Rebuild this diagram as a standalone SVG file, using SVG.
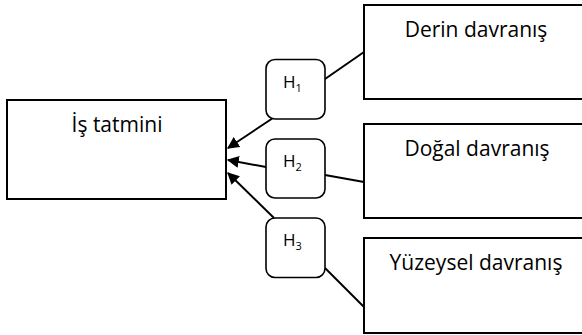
<svg xmlns="http://www.w3.org/2000/svg" width="582" height="335" viewBox="0 0 582 335">
  <defs>
    <style>
      .box { fill: #ffffff; stroke: #000000; stroke-width: 2; }
      .hyp { fill: #ffffff; stroke: #000000; stroke-width: 1.6; }
      .lbl { font-family: "Open Sans", "Noto Sans", sans-serif; font-size: 21px; fill: #000000; text-anchor: middle; }
      .h { font-family: "Open Sans", "Noto Sans", sans-serif; font-size: 17px; fill: #000000; }
      .sub { font-size: 11px; }
      .link { stroke: #000000; stroke-width: 2; fill: none; }
      .arrow { stroke: #000000; stroke-width: 2; fill: none; marker-end: url(#head); }
    </style>
    <marker id="head" viewBox="0 0 10 10" refX="9" refY="5" markerWidth="6" markerHeight="6" orient="auto" markerUnits="strokeWidth">
      <path d="M0,0 L10,5 L0,10 z" fill="#000000"/>
    </marker>
  </defs>

  <!-- connectors -->
  <g id="connectors">
    <line class="link" x1="325" y1="79" x2="364" y2="52"/>
    <line class="link" x1="325" y1="175" x2="364" y2="182"/>
    <line class="link" x1="325" y1="268" x2="364" y2="307"/>
    <line class="arrow" x1="273" y1="118" x2="228" y2="148"/>
    <line class="arrow" x1="266" y1="167" x2="228" y2="160"/>
    <line class="arrow" x1="274" y1="218" x2="228" y2="173"/>
  </g>

  <g id="is-tatmini">
    <rect class="box" x="7" y="100" width="219" height="99"/>
    <text class="lbl" x="117" y="132">İş tatmini</text>
  </g>

  <g id="derin">
    <rect class="box" x="364" y="5" width="240" height="94"/>
    <text class="lbl" x="476" y="37">Derin davranış</text>
  </g>

  <g id="dogal">
    <rect class="box" x="364" y="124" width="240" height="94"/>
    <text class="lbl" x="477" y="156">Doğal davranış</text>
  </g>

  <g id="yuzeysel">
    <rect class="box" x="364" y="238" width="240" height="95"/>
    <text class="lbl" x="476" y="270">Yüzeysel davranış</text>
  </g>

  <g id="h1">
    <rect class="hyp" x="266" y="59.5" width="59" height="59.5" rx="9"/>
    <text class="h" x="283" y="88">H<tspan class="sub" dy="4">1</tspan></text>
  </g>

  <g id="h2">
    <rect class="hyp" x="266" y="139" width="59" height="59" rx="9"/>
    <text class="h" x="283" y="167">H<tspan class="sub" dy="4">2</tspan></text>
  </g>

  <g id="h3">
    <rect class="hyp" x="266" y="218" width="59" height="59.5" rx="9"/>
    <text class="h" x="283" y="246">H<tspan class="sub" dy="4">3</tspan></text>
  </g>
</svg>
